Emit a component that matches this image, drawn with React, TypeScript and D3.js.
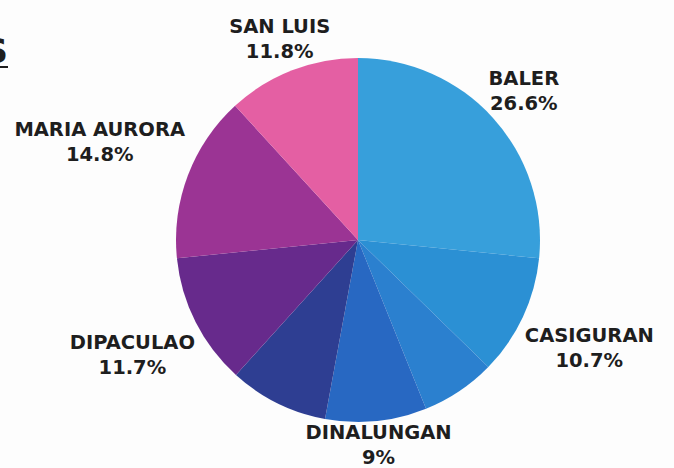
import React, { useMemo } from "react";
import * as d3 from "d3";

const categories = ["BALER", "CASIGURAN", "DILASAG", "DINALUNGAN", "DINGALAN", "DIPACULAO", "MARIA AURORA", "SAN LUIS"];
const values = [26.6, 10.7, 6.6, 9, 8.8, 11.7, 14.8, 11.8];
const valueLabels = ["26.6%", "10.7%", "", "9%", "", "11.7%", "14.8%", "11.8%"];
const showLabel = [true, true, false, true, false, true, true, true];
const colors = ["#379fdb", "#2b90d4", "#2b80cf", "#2868c2", "#2e3e92", "#672a8c", "#9b3494", "#e45fa3"];

const W = 674;
const H = 468;
const CX = 358;
const CY = 240;
const R = 182;
const LABEL_R = 196;
const FONT_SIZE = 19.5;
const FONT = `bold ${FONT_SIZE}px 'DejaVu Sans'`;

function textWidth(s: string): number {
  if (typeof document === "undefined") return s.length * 13;
  const c = document.createElement("canvas");
  const ctx = c.getContext("2d");
  if (!ctx) return s.length * 13;
  ctx.font = FONT;
  return ctx.measureText(s).width;
}

export default function App() {
  const rows = categories.map((c, i) => ({ name: c, value: values[i], label: valueLabels[i], show: showLabel[i], color: colors[i] }));
  const arcs = useMemo(() => d3.pie<any>().sort(null).value((d) => d.value)(rows), []);
  const arcGen = d3.arc<any>().innerRadius(0).outerRadius(R);

  return (
    <svg width={W} height={H} style={{ position: "fixed", left: 0, top: 0, background: "#fff" }}>
      <rect width={W} height={H} fill="#fdfdfd" />
      <text x={8} y={63} textAnchor="end" fontFamily="'DejaVu Sans'" fontWeight="bold" fontSize={34} fill="#1e1e1e">S</text>
      <line x1={0} x2={8} y1={67} y2={67} stroke="#1e1e1e" strokeWidth={2} />
      <g transform={`translate(${CX},${CY})`}>
        {arcs.map((a, i) => (
          <path key={i} d={arcGen(a) as string} fill={a.data.color} />
        ))}
        {arcs.map((a, i) => {
          if (!a.data.show) return null;
          const mid = (a.startAngle + a.endAngle) / 2;
          const w = Math.max(textWidth(a.data.name), textWidth(a.data.label));
          const hh = 2;
          const d = LABEL_R + (w / 2) * Math.abs(Math.sin(mid)) + hh * Math.abs(Math.cos(mid));
          const x = d * Math.sin(mid);
          const y = -d * Math.cos(mid);
          return (
            <g key={"l" + i} fontFamily="'DejaVu Sans'" fontWeight="bold" fontSize={FONT_SIZE} fill="#1e1e1e" textAnchor="middle">
              <text x={x} y={y - 5.5}>{a.data.name}</text>
              <text x={x} y={y + 19.5}>{a.data.label}</text>
            </g>
          );
        })}
      </g>
    </svg>
  );
}
